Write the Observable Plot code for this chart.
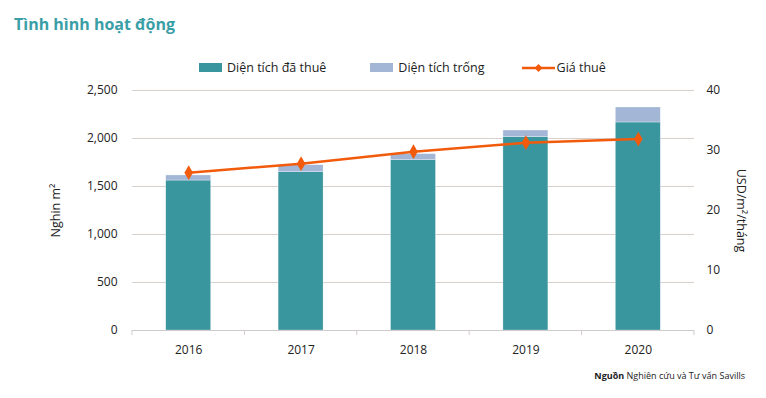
<!DOCTYPE html>
<html><head><meta charset="utf-8">
<script src="https://cdn.jsdelivr.net/npm/d3@7"></script>
<script src="https://cdn.jsdelivr.net/npm/@observablehq/plot@0.6"></script>
<style>
body{margin:0;width:766px;height:398px;position:relative;font-family:"Open Sans",sans-serif;background:#fff;overflow:hidden;color:#222}
#title{position:absolute;left:14px;top:13px;font-size:16px;font-weight:bold;color:#3a9ea6}
#legend{position:absolute;left:199px;top:59px;display:flex;align-items:center;font-size:12.5px;white-space:nowrap}
#legend .item{display:flex;align-items:center}
#legend svg{margin-right:5px}
#chart{position:absolute;left:0;top:80px}
#source{position:absolute;right:21px;top:369px;font-size:9px;color:#222}
</style></head>
<body>
<div id="title">Tình hình hoạt động</div>
<div id="legend"></div>
<div id="chart"></div>
<div id="source"><b>Nguồn</b> Nghiên cứu và Tư vấn Savills</div>
<script>
const years = ["2016","2017","2018","2019","2020"];
const leased = [1562,1649,1774,2014,2167];
const vacant = [53,73,63,69,156];
const price = [26.3,27.8,29.8,31.3,31.9];
const leftTicks = [0,500,1000,1500,2000,2500];
const rightTicks = [0,10,20,30,40];
const seriesNames = ["Diện tích đã thuê","Diện tích trống","Giá thuê"];
const colors = ["#3a969e","#a3b6d6","#f25a0c"];

const k = 2500/40;
const bars = [];
years.forEach((y,i)=>bars.push({year:y, series:seriesNames[0], value:leased[i]}));
years.forEach((y,i)=>bars.push({year:y, series:seriesNames[1], value:vacant[i]}));
const line = years.map((y,i)=>({year:y, price:price[i]}));

// legend
const leg = document.getElementById("legend");
leg.innerHTML =
 `<div class="item" style="margin-right:44px"><svg width="23" height="9"><rect width="23" height="9" fill="${colors[0]}"/></svg>${seriesNames[0]}</div>`+
 `<div class="item" style="margin-right:37px"><svg width="23" height="9"><rect width="23" height="9" fill="${colors[1]}"/></svg>${seriesNames[1]}</div>`+
 `<div class="item"><svg width="33" height="10" style="margin-right:2px"><line x1="0" x2="33" y1="5" y2="5" stroke="${colors[2]}" stroke-width="2.5"/><path d="M16.5 1 L20.5 5 L16.5 9 L12.5 5Z" fill="${colors[2]}"/></svg>${seriesNames[2]}</div>`;

const chart = Plot.plot({
  width: 766, height: 285,
  marginLeft: 132, marginRight: 72, marginTop: 10, marginBottom: 35,
  style: {fontFamily: '"Open Sans", sans-serif', fontSize: "12px", color: "#222", background: "transparent"},
  x: {domain: years, paddingInner: 0.6, paddingOuter: 0.3, round: false, label: null},
  y: {domain: [0, 2500], label: null},
  color: {domain: seriesNames.slice(0,2), range: colors.slice(0,2)},
  marks: [
    Plot.gridY(leftTicks, {stroke: "#d9cfcb", strokeOpacity: 1}),
    Plot.barY(bars, {x: "year", y: "value", fill: "series", stroke: "white", strokeWidth: 0.6, strokeOpacity: 0.5}),
    Plot.ruleY([0], {stroke: "#d0cbcb"}),
    Plot.line(line, {x: "year", y: d => d.price * k, stroke: colors[2], strokeWidth: 2.5}),
    Plot.dot(line, {x: "year", y: d => d.price * k, symbol: "diamond", r: 4.5, fill: colors[2], stroke: "none"}),
    Plot.axisY(leftTicks, {anchor: "left", tickSize: 0, tickPadding: 15, tickFormat: d3.format(","), label: null}),
    Plot.axisY(rightTicks.map(t => t * k), {anchor: "right", tickSize: 0, tickPadding: 12, tickFormat: d => d / k, label: null}),
    Plot.axisX({tickSize: 0, tickPadding: 15, label: null}),
    Plot.text(["Nghin m²"], {frameAnchor: "left", textAnchor: "middle", dx: -77, rotate: -90, fontSize: 12.5, fill: "#222"}),
    Plot.text(["USD/m²/tháng"], {frameAnchor: "right", textAnchor: "middle", dx: 46, rotate: 90, fontSize: 12.5, fill: "#222"})
  ]
});
document.getElementById("chart").appendChild(chart);

// category boundary ticks on the x axis
const sx = chart.scale("x");
const sy = chart.scale("y");
const y0 = sy.apply(0);
const first = sx.apply(years[0]) - (sx.step - sx.bandwidth) / 2;
const edges = d3.range(years.length + 1).map(i => first + i * sx.step);
d3.select(chart).append("g")
  .selectAll("line").data(edges).join("line")
  .attr("x1", d => d).attr("x2", d => d)
  .attr("y1", y0).attr("y2", y0 + 5)
  .attr("stroke", "#d0cbcb");
</script>
</body></html>
